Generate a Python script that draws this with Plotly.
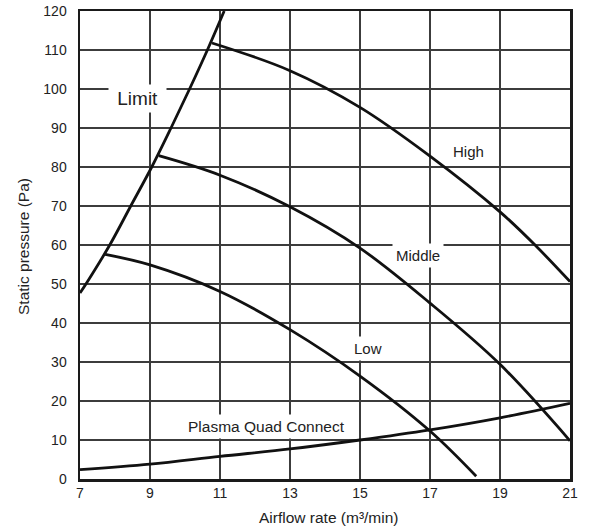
import plotly.graph_objects as go

# Data
limit_x = [7.0, 7.17, 7.85, 8.45, 9.05, 9.6, 10.13, 10.64, 11.12]
limit_y = [47.7, 50.0, 60.0, 70.0, 80.0, 90.0, 100.0, 110.0, 120.0]

high_x = [10.77, 13.0, 15.0, 17.0, 19.0, 20.0, 21.0]
high_y = [111.8, 104.7, 95.3, 82.8, 68.5, 60.0, 50.6]

middle_x = [9.25, 11.0, 13.0, 15.0, 17.0, 19.0, 21.0]
middle_y = [82.9, 77.9, 69.8, 59.2, 45.1, 29.4, 9.8]

low_x = [7.72, 9.0, 11.0, 13.0, 15.0, 17.0, 18.32]
low_y = [57.6, 54.9, 48.1, 38.3, 26.4, 12.3, 0.7]

pqc_x = [7.0, 9.0, 11.0, 13.0, 15.0, 17.0, 19.0, 21.0]
pqc_y = [2.4, 3.8, 5.8, 7.7, 10.0, 12.6, 15.7, 19.4]

x_ticks = [7, 9, 11, 13, 15, 17, 19, 21]
y_ticks = [0, 10, 20, 30, 40, 50, 60, 70, 80, 90, 100, 110, 120]

labels = [
    ("\u00a0Limit\u00a0", 8.63, 97.5, 19),
    ("High", 18.11, 84.0, 15),
    ("Middle", 16.66, 57.2, 15),
    ("Low", 15.24, 33.4, 15),
    ("Plasma Quad Connect", 12.34, 13.4, 15.5),
]

FONT = "Liberation Sans, Arial, sans-serif"
TXT = "#222222"

fig = go.Figure()
line = dict(color="#111111", width=2.8, shape="spline", smoothing=1.0)
for xs, ys in [(limit_x, limit_y), (high_x, high_y), (middle_x, middle_y),
               (low_x, low_y), (pqc_x, pqc_y)]:
    fig.add_trace(go.Scatter(x=xs, y=ys, mode="lines", line=line,
                             showlegend=False, hoverinfo="skip"))

for text, x, y, size in labels:
    fig.add_annotation(x=x, y=y, text=text, showarrow=False,
                       font=dict(family=FONT, size=size, color=TXT),
                       bgcolor="white", borderpad=3)

# Axis titles placed as annotations so the margins stay fixed
fig.add_annotation(xref="paper", yref="paper", x=0.5, y=0, xshift=4, yshift=-38,
                   xanchor="center", yanchor="middle",
                   text="Airflow rate (m³/min)", showarrow=False,
                   font=dict(family=FONT, size=15.5, color=TXT))
fig.add_annotation(xref="paper", yref="paper", x=0, y=0.5, xshift=-57, yshift=-2,
                   xanchor="center", yanchor="middle",
                   text="Static pressure (Pa)", showarrow=False, textangle=-90,
                   font=dict(family=FONT, size=15.5, color=TXT))

axis_common = dict(showgrid=True, gridcolor="#3c3c3c", gridwidth=1.5,
                   zeroline=False, showline=True, linecolor="#1a1a1a", linewidth=2.5,
                   mirror=True, ticks="", automargin=False,
                   tickfont=dict(family=FONT, size=14, color=TXT))

fig.update_xaxes(range=[7, 21], tickvals=x_ticks, ticktext=[str(v) for v in x_ticks],
                 ticklabelstandoff=0, **axis_common)
fig.update_yaxes(range=[0, 120], tickvals=y_ticks, ticktext=[str(v) for v in y_ticks],
                 ticklabelstandoff=8, **axis_common)

fig.update_layout(width=589, height=531, margin=dict(l=80, r=19, t=11, b=52),
                  plot_bgcolor="white", paper_bgcolor="white")

fig.write_html("out.html", config={"displayModeBar": False, "staticPlot": True},
               post_script="document.body.style.margin='0px';document.body.style.overflow='hidden';")
